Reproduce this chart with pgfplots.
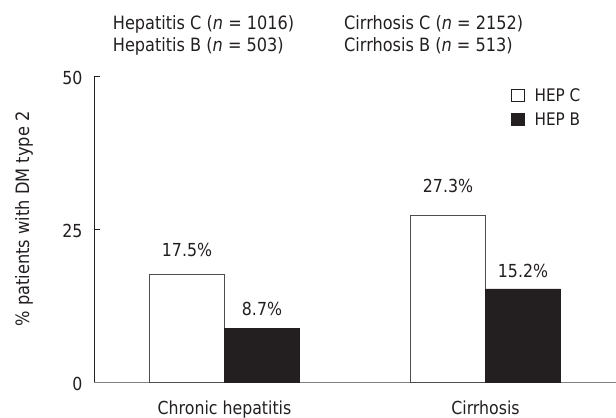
\documentclass[border=0pt]{standalone}
\usepackage{pgfplots}
\usepackage{pgfplotstable}
\pgfplotsset{compat=1.18}
\usepackage{fontspec}
\setmainfont{DejaVu Sans}[FakeStretch=0.88]
\definecolor{txt}{HTML}{231F20}
\definecolor{barblack}{HTML}{231F20}
\definecolor{edge}{HTML}{4D4D4D}

% x: group position (0 = Chronic hepatitis, 1 = Cirrhosis) with the bar offset already applied
\pgfplotstableread{
x y off
-0.14368 17.5 18.7
0.85632 27.3 22.3
}\hepc
\pgfplotstableread{
x y off
0.14368 8.7 13.3
1.14368 15.2 11.7
}\hepb

\begin{document}
\begin{tikzpicture}
\path[use as bounding box] (-94bp,-36bp) rectangle (522bp,382bp);
\begin{axis}[
  at={(0,0)}, anchor=south west,
  scale only axis, width=522bp, height=306bp,
  xmin=-0.5, xmax=1.5, ymin=0, ymax=50,
  axis x line*=bottom, axis y line*=left,
  x axis line style={draw=gray, line width=0.8bp},
  y axis line style={draw=txt, line width=0.8bp},
  ytick={0,25,50},
  xtick={0,1},
  xticklabels={Chronic hepatitis, Cirrhosis},
  xtick style={draw=none},
  extra x ticks={0.5},
  extra x tick labels={},
  extra x tick style={major tick length=6bp, tick style={draw=txt, line width=0.8bp}},
  tick align=inside,
  major tick length=6bp,
  ytick style={draw=txt, line width=0.8bp},
  /pgf/number format/assume math mode=true,
  tick label style={font=\fontsize{18}{21}\selectfont, text=txt},
  xticklabel style={anchor=base, yshift=-32bp},
  yticklabel style={xshift=-8bp, yshift=-1.5bp},
  ylabel={\% patients with DM type 2},
  ylabel style={at={(axis description cs:-0.1245,0.533)}, anchor=base, rotate=0, font=\fontsize{18.5}{21}\selectfont, text=txt},
  legend style={at={(rel axis cs:0.799,0.967)}, anchor=north west, draw=none, fill=none,
    font=\fontsize{17.4}{20}\selectfont, text=txt, inner xsep=0pt, inner ysep=0pt,
    row sep=6bp, column sep=8bp, cells={anchor=west}},
  clip=false,
]
\addplot[ybar, bar width=75bp, bar shift=0bp, draw=edge, line width=0.8bp, fill=white,
  point meta=y,
  visualization depends on={\thisrow{off} \as \off},
  nodes near coords={\pgfmathprintnumber[fixed,precision=1,fixed zerofill]{\pgfplotspointmeta}\%},
  every node near coord/.append style={anchor=base, yshift=\off bp, font=\fontsize{18}{21}\selectfont, text=txt},
  legend image code/.code={\draw[draw=txt, line width=0.8bp, fill=white] (0bp,-6bp) rectangle (12.5bp,6bp);}
] table[x=x, y=y] {\hepc};
\addlegendentry{HEP C}
\addplot[ybar, bar width=75bp, bar shift=0bp, draw=barblack, line width=0.8bp, fill=barblack,
  point meta=y,
  visualization depends on={\thisrow{off} \as \off},
  nodes near coords={\pgfmathprintnumber[fixed,precision=1,fixed zerofill]{\pgfplotspointmeta}\%},
  every node near coord/.append style={anchor=base, yshift=\off bp, font=\fontsize{18}{21}\selectfont, text=txt},
  legend image code/.code={\draw[draw=barblack, line width=0.8bp, fill=barblack] (0bp,-6bp) rectangle (12.5bp,6bp);}
] table[x=x, y=y] {\hepb};
\addlegendentry{HEP B}
\end{axis}
\begin{scope}[every node/.style={anchor=base west, inner sep=0pt, text=txt, font=\fontsize{18.4}{21}\selectfont}]
\node at (18.7bp,352bp) {Hepatitis C (\textit{n} = 1016)};
\node at (18.7bp,330bp) {Hepatitis B (\textit{n} = 503)};
\node at (250bp,352bp) {Cirrhosis C (\textit{n} = 2152)};
\node at (250bp,330bp) {Cirrhosis B (\textit{n} = 513)};
\end{scope}
\end{tikzpicture}
\end{document}
